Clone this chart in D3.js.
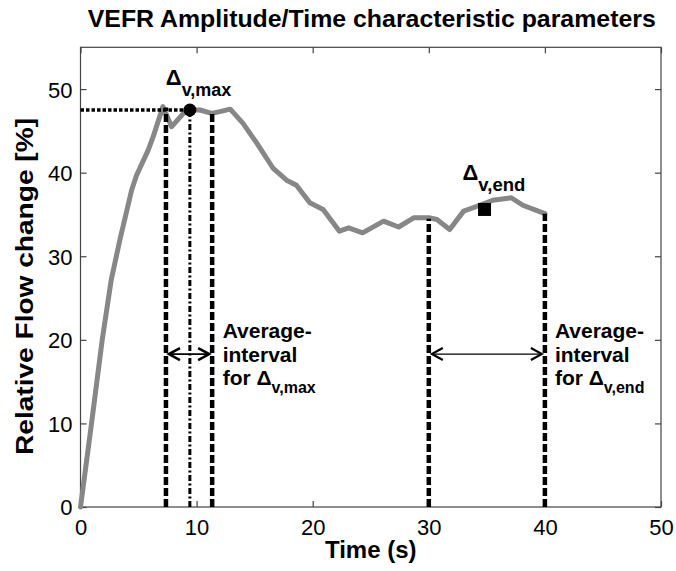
<!DOCTYPE html>
<html><head><meta charset="utf-8">
<script src="https://cdn.jsdelivr.net/npm/d3@7"></script>
<style>
body{margin:0;background:#fff;}
text{font-family:"Liberation Sans",Arial,Helvetica,sans-serif;fill:#000;}
</style></head>
<body><svg id="chart" width="676" height="571"></svg>
<script>
// ---- data ----
const time = [0, 0.95, 1.87, 2.65, 3.4, 4.4, 4.83, 5.83, 6.26, 7.1, 7.85, 9.0, 9.42, 10.3, 11.3, 12.0, 12.9, 14.0, 15.2, 16.6, 17.75, 18.6, 19.75, 20.9, 22.3, 23.1, 24.3, 26.1, 27.4, 28.7, 30.1, 30.7, 31.8, 33.0, 34.4, 35.5, 37.1, 38.1, 40];
const flow = [0, 10, 20, 27.2, 32, 37.9, 39.7, 42.7, 44.3, 47.9, 45.5, 47.3, 47.5, 47.5, 47.1, 47.3, 47.6, 45.9, 43.5, 40.5, 39.1, 38.5, 36.4, 35.6, 33.0, 33.4, 32.8, 34.2, 33.5, 34.6, 34.6, 34.4, 33.2, 35.4, 36.1, 36.7, 37.0, 36.1, 35.1];
const xTicks = [0, 10, 20, 30, 40, 50];
const yTicks = [0, 10, 20, 30, 40, 50];
const maxPoint = [9.42, 47.5];
const endPoint = [34.8, 35.6];
const maxInterval = [7.36, 11.34];
const maxIntervalTops = [47.8, 47.2];
const endInterval = [30, 40];
const endIntervalTops = [34.5, 35.1];
const arrowLevel = 18.3;
const titleText = "VEFR Amplitude/Time characteristic parameters";
const xLabel = "Time (s)";
const yLabel = "Relative Flow change [%]";

// ---- layout ----
const L = 80.5, R = 661, T = 47.3, B = 507;
const svg = d3.select("#chart");
const x = d3.scaleLinear().domain([0, 50]).range([L, R]);
const y = d3.scaleLinear().domain([0, 55]).range([B, T]);

// frame
svg.append("rect").attr("x", L).attr("y", T).attr("width", R - L).attr("height", B - T)
  .attr("fill", "none").attr("stroke", "#444").attr("stroke-width", 1.2);

// axes (ticks inward)
const gx = svg.append("g").attr("transform", `translate(0,${B})`)
  .call(d3.axisBottom(x).tickValues(xTicks).tickSizeInner(-6).tickSizeOuter(0).tickPadding(12));
const gxTop = svg.append("g").attr("transform", `translate(0,${T})`)
  .call(d3.axisTop(x).tickValues(xTicks).tickSizeInner(-6).tickSizeOuter(0).tickFormat(""));
const gy = svg.append("g").attr("transform", `translate(${L},0)`)
  .call(d3.axisLeft(y).tickValues(yTicks).tickSizeInner(-6).tickSizeOuter(0).tickPadding(8));
const gyR = svg.append("g").attr("transform", `translate(${R},0)`)
  .call(d3.axisRight(y).tickValues(yTicks).tickSizeInner(-6).tickSizeOuter(0).tickFormat(""));
[gx, gxTop, gy, gyR].forEach(g => {
  g.select(".domain").remove();
  g.selectAll("line").attr("stroke", "#444").attr("stroke-width", 1.2);
  g.selectAll("text").attr("font-size", 22).attr("font-family", "Liberation Sans, Arial, sans-serif").attr("fill", "#000");
});
gy.selectAll("text").attr("dy", "0.36em");

// curve
const pts = time.map((t, i) => [t, flow[i]]);
svg.append("path").datum(pts)
  .attr("fill", "none").attr("stroke", "#878787").attr("stroke-width", 5)
  .attr("stroke-linejoin", "round").attr("stroke-linecap", "round")
  .attr("d", d3.line().x(d => x(d[0])).y(d => y(d[1])));

// horizontal dotted line to max
svg.append("line").attr("x1", x(0)).attr("x2", x(maxPoint[0])).attr("y1", y(maxPoint[1])).attr("y2", y(maxPoint[1]))
  .attr("stroke", "#000").attr("stroke-width", 3.5).attr("stroke-dasharray", "3.5,2");

// dashed interval lines
const dashed = [[maxInterval[0], maxIntervalTops[0]], [maxInterval[1], maxIntervalTops[1]],
                [endInterval[0], endIntervalTops[0]], [endInterval[1], endIntervalTops[1]]];
svg.selectAll("line.iv").data(dashed).enter().append("line").attr("class", "iv")
  .attr("x1", d => x(d[0])).attr("x2", d => x(d[0])).attr("y1", y(0)).attr("y2", d => y(d[1]))
  .attr("stroke", "#000").attr("stroke-width", 4.5).attr("stroke-dasharray", "8,3");

// dash-dot line at max time
svg.append("line").attr("x1", x(maxPoint[0])).attr("x2", x(maxPoint[0])).attr("y1", y(0)).attr("y2", y(maxPoint[1]))
  .attr("stroke", "#000").attr("stroke-width", 3).attr("stroke-dasharray", "6,2.5,2,2.5");

// markers
svg.append("circle").attr("cx", x(maxPoint[0])).attr("cy", y(maxPoint[1])).attr("r", 6.5).attr("fill", "#000");
svg.append("rect").attr("x", x(endPoint[0]) - 6.5).attr("y", y(endPoint[1]) - 6.5).attr("width", 13).attr("height", 13).attr("fill", "#000");

// arrows
function dblArrow(x1, x2, yy, w) {
  const g = svg.append("g").attr("fill", "none").attr("stroke", "#000").attr("stroke-width", w);
  g.append("line").attr("x1", x1 + 1).attr("x2", x2 - 1).attr("y1", yy).attr("y2", yy);
  g.append("path").attr("d", `M${x1 + 12},${yy - 6} L${x1 + 1},${yy} L${x1 + 12},${yy + 6}`).attr("stroke-width", w + 0.8);
  g.append("path").attr("d", `M${x2 - 12},${yy - 6} L${x2 - 1},${yy} L${x2 - 12},${yy + 6}`).attr("stroke-width", w + 0.8);
}
dblArrow(x(maxInterval[0]) + 2, x(maxInterval[1]) - 2, y(arrowLevel), 1.8);
dblArrow(x(endInterval[0]) + 2, x(endInterval[1]) - 2, y(arrowLevel), 1.3);

// point labels
function deltaLabel(px, py, sub, subSize) {
  const t = svg.append("text").attr("x", px).attr("y", py).attr("font-weight", "bold").attr("font-size", 22);
  t.append("tspan").text("Δ");
  t.append("tspan").attr("font-size", subSize).attr("dy", 11).text(sub);
}
deltaLabel(x(maxPoint[0]) - 24, y(maxPoint[1]) - 25, "v,max", 18);
deltaLabel(x(endPoint[0]) - 22, y(endPoint[1]) - 29.5, "v,end", 18.5);

// interval notes
function note(px, sub) {
  const base = 338;
  const g = svg.append("g").attr("font-weight", "bold").attr("font-size", 21);
  g.append("text").attr("x", px).attr("y", base).text("Average-");
  g.append("text").attr("x", px).attr("y", base + 24).text("interval");
  const t = g.append("text").attr("x", px).attr("y", base + 47);
  t.append("tspan").text("for Δ");
  t.append("tspan").attr("font-size", 16).attr("dy", 8).text(sub);
}
note(x(maxInterval[1]) + 10.5, "v,max");
note(x(endInterval[1]) + 10, "v,end");

// title & axis labels
svg.append("text").attr("x", (L + R) / 2 + 1).attr("y", 27).attr("text-anchor", "middle")
  .attr("font-weight", "bold").attr("font-size", 24).attr("textLength", 568).attr("lengthAdjust", "spacingAndGlyphs").text(titleText);
svg.append("text").attr("x", (L + R) / 2).attr("y", 558).attr("text-anchor", "middle")
  .attr("font-weight", "bold").attr("font-size", 24).text(xLabel);
svg.append("text").attr("transform", `translate(33,286.5) rotate(-90)`).attr("text-anchor", "middle")
  .attr("font-weight", "bold").attr("font-size", 24).attr("textLength", 337).attr("lengthAdjust", "spacingAndGlyphs").text(yLabel);
</script></body></html>
